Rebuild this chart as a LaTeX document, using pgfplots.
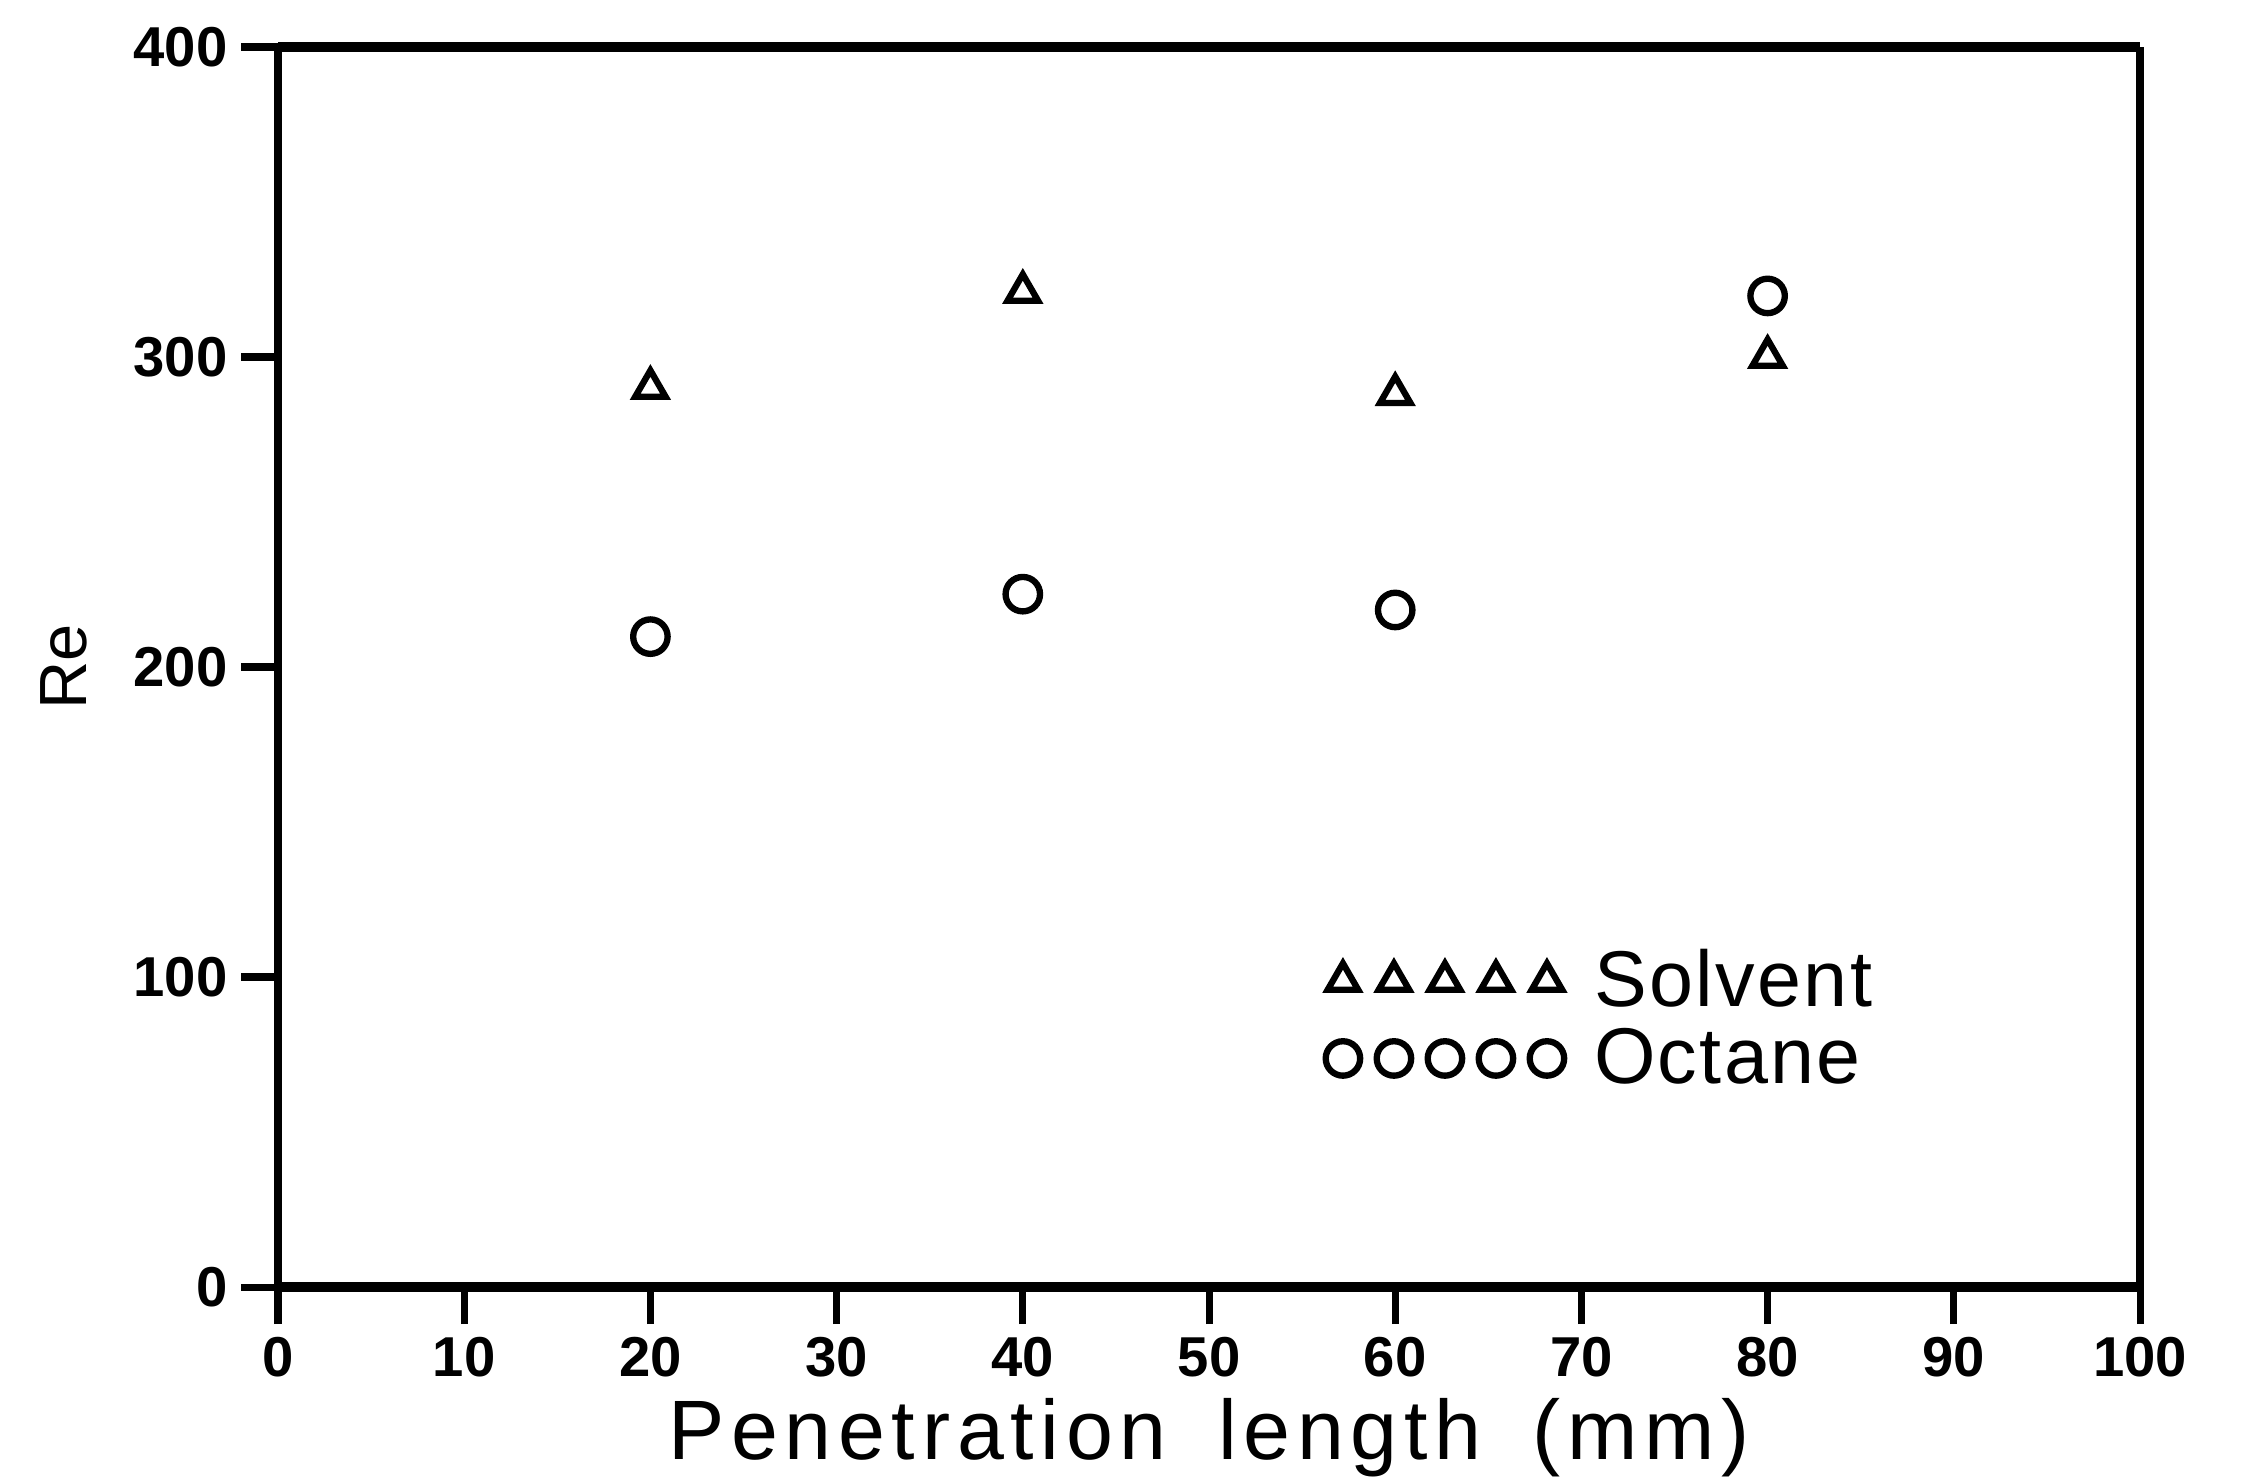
\documentclass[border=0pt]{standalone}
\usepackage{fontspec}
\setmainfont{Liberation Sans}
\newfontfamily\labfont[LetterSpace=8]{Liberation Sans}
\newfontfamily\legfont[LetterSpace=3]{Liberation Sans}
\usepackage{pgfplots}
\pgfplotsset{compat=1.18}
\begin{document}
\begin{tikzpicture}
\path[use as bounding box] (-2.78,-1.93) rectangle (19.63,12.87);
\begin{axis}[
  at={(0,0)}, anchor=south west,
  scale only axis, width=18.62cm, height=12.40cm,
  xmin=0, xmax=100, ymin=0, ymax=400,
  xtick={0,10,...,100}, ytick={0,100,...,400},
  tick align=outside, xtick pos=bottom, ytick pos=left,
  major tick length=0.37cm,
  every tick/.style={black, line width=2pt},
  separate axis lines,
  x axis line style={line width=3pt},
  y axis line style={line width=2.3pt},
  /pgf/number format/assume math mode=true,
  tick label style={font=\fontsize{16}{16}\selectfont\bfseries, inner sep=0.13cm},
  xlabel={Penetration\hspace{0.25em} length\hspace{0.25em} (mm)},
  ylabel={Re},
  every axis x label/.style={at={(axis description cs:0.5,-0.1387)}, anchor=base, font=\labfont\fontsize{24}{24}\selectfont},
  every axis y label/.style={at={(axis description cs:-0.1149,0.5)}, rotate=90, anchor=center, font=\fontsize{19}{19}\selectfont},
  legend style={draw=none, fill=none, at={(0.5623,0.216)}, anchor=west,
    font=\legfont\fontsize{22.5}{22.5}\selectfont, row sep=0.16cm, column sep=0.3cm,
    inner sep=0pt, nodes={inner sep=0pt}},
  legend cell align=left,
  legend image code/.code={\draw[#1, only marks] plot coordinates {(0cm,0cm)(0.51cm,0cm)(1.02cm,0cm)(1.53cm,0cm)(2.04cm,0cm)};},
]
\addplot[only marks, mark=triangle, mark size=5pt, mark options={line width=1.8pt, black}]
  coordinates {(20,290) (40,321) (60,288) (80,300)};
\addlegendentry{Solvent}
\addplot[only marks, mark=o, mark size=4.9pt, mark options={line width=1.8pt, black}]
  coordinates {(20,209.8) (40,223.5) (60,218.4) (80,319.7)};
\addlegendentry{Octane}
\end{axis}
\end{tikzpicture}
\end{document}
